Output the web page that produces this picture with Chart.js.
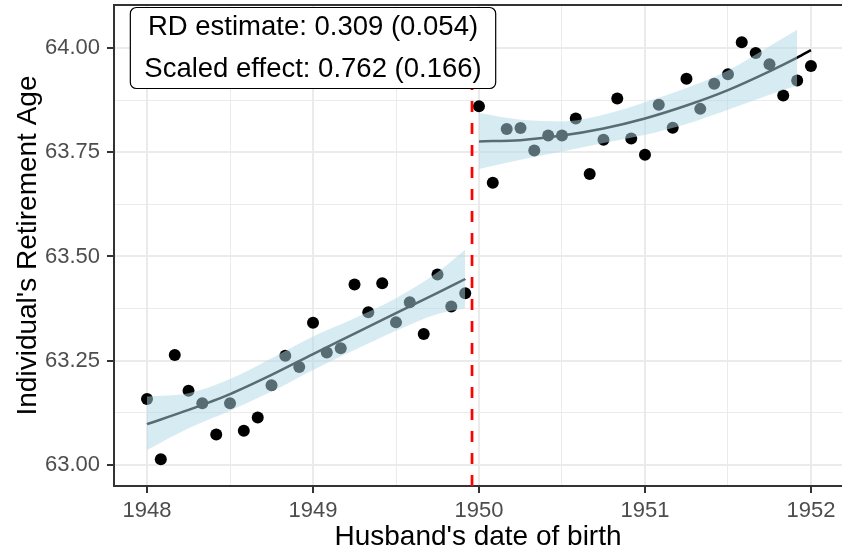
<!DOCTYPE html>
<html><head><meta charset="utf-8">
<script src="https://cdn.jsdelivr.net/npm/chart.js@4.4.1/dist/chart.umd.min.js"></script>
<style>html,body{margin:0;padding:0;background:#fff;overflow:hidden}#wrap{width:842px;height:551px}</style>
</head><body><div id="wrap"><canvas id="c" width="842" height="551"></canvas></div>
<script>
// ---- data ----
const leftX = [1948.000,1948.083,1948.167,1948.250,1948.333,1948.417,1948.500,1948.583,1948.667,1948.750,1948.833,1948.917,
               1949.000,1949.083,1949.167,1949.250,1949.333,1949.417,1949.500,1949.583,1949.667,1949.750,1949.833,1949.917];
const leftY = [63.158,63.014,63.264,63.178,63.148,63.073,63.148,63.082,63.114,63.191,63.262,63.235,
               63.341,63.270,63.280,63.433,63.366,63.436,63.342,63.390,63.314,63.457,63.380,63.412];
const rightX = [1950.000,1950.083,1950.167,1950.250,1950.333,1950.417,1950.500,1950.583,1950.667,1950.750,1950.833,1950.917,
                1951.000,1951.083,1951.167,1951.250,1951.333,1951.417,1951.500,1951.583,1951.667,1951.750,1951.833,1951.917,1952.000];
const rightY = [63.860,63.677,63.806,63.808,63.754,63.790,63.790,63.831,63.698,63.780,63.879,63.783,
                63.744,63.864,63.809,63.926,63.854,63.914,63.937,64.014,63.988,63.961,63.886,63.922,63.957];

const fitLeftX = [1948.0,1948.25,1948.5,1948.75,1949.0,1949.25,1949.5,1949.75,1949.917];
const fitLeftY = [63.098,63.132,63.170,63.216,63.266,63.315,63.364,63.413,63.446];
const bandLeftUpper = [63.164,63.172,63.206,63.256,63.308,63.352,63.400,63.462,63.516];
const bandLeftLower = [63.036,63.088,63.130,63.176,63.228,63.276,63.322,63.362,63.376];

const fitRightX = [1950.0,1950.25,1950.5,1950.75,1951.0,1951.25,1951.5,1951.75,1951.917,1952.0];
const fitRightY = [63.776,63.779,63.790,63.807,63.831,63.862,63.899,63.944,63.977,63.995];
const bandRightX = [1950.0,1950.25,1950.5,1950.75,1951.0,1951.25,1951.5,1951.75,1951.917];
const bandRightUpper = [63.844,63.828,63.824,63.840,63.870,63.904,63.946,64.004,64.044];
const bandRightLower = [63.710,63.732,63.752,63.772,63.792,63.818,63.852,63.888,63.910];

const cutoff = 1949.958;

const xTickValues = [1948,1949,1950,1951,1952];
const xTickLabels = ['1948','1949','1950','1951','1952'];
const xMinorTicks = [1948.5,1949.5,1950.5,1951.5];
const yTickValues = [63.00,63.25,63.50,63.75,64.00];
const yTickLabels = ['63.00','63.25','63.50','63.75','64.00'];
const yMinorTicks = [63.125,63.375,63.625,63.875];

const xTitle = "Husband's date of birth";
const yTitle = "Individual's Retirement Age";
const annotationLines = ['RD estimate: 0.309 (0.054)','Scaled effect: 0.762 (0.166)'];
const annotationAnchor = {x: 1949, y: 64.00};

// ---- layout / style ----
const X_MIN = 1947.801, X_MAX = 1952.187;
const Y_MIN = 62.9496, Y_MAX = 64.1031;
const FONT = '"Liberation Sans", Arial, Helvetica, sans-serif';
const BAND = 'rgba(173,216,230,0.5)';
const GRID = '#EBEBEB';
const AXIS = '#333333';

const pts = (xs, ys) => xs.map((x,i)=>({x, y: ys[i]}));

function tickSetter(major, minor) {
  return (scale) => {
    scale.ticks = major.concat(minor).filter(v => v >= scale.min && v <= scale.max).sort((a,b)=>a-b).map(v=>({value:v}));
  };
}
const isMajor = (arr, v) => arr.some(m => Math.abs(m - v) < 1e-6);
function zeroPad(s) { s.paddingLeft = 0; s.paddingRight = 0; s.paddingTop = 0; s.paddingBottom = 0; }

const annotationPlugin = {
  id: 'rdAnnotation',
  afterDatasetsDraw(chart) {
    const {ctx, scales:{x, y}} = chart;
    const cx = x.getPixelForValue(annotationAnchor.x);
    const cy = y.getPixelForValue(annotationAnchor.y);
    ctx.save();
    ctx.font = '27.5px ' + FONT;
    const w = Math.max(...annotationLines.map(t => ctx.measureText(t).width)) + 28;
    const h = 81, r = 6;
    const l = cx - w/2, t = cy - h/2;
    ctx.beginPath();
    ctx.moveTo(l + r, t);
    ctx.arcTo(l + w, t, l + w, t + h, r);
    ctx.arcTo(l + w, t + h, l, t + h, r);
    ctx.arcTo(l, t + h, l, t, r);
    ctx.arcTo(l, t, l + w, t, r);
    ctx.closePath();
    ctx.fillStyle = '#ffffff';
    ctx.fill();
    ctx.lineWidth = 1.2;
    ctx.strokeStyle = '#000000';
    ctx.stroke();
    ctx.fillStyle = '#000000';
    ctx.textAlign = 'center';
    ctx.textBaseline = 'middle';
    ctx.fillText(annotationLines[0], cx, cy - 21);
    ctx.fillText(annotationLines[1], cx, cy + 21);
    ctx.restore();
  }
};

const lineBase = {type:'line', pointRadius:0, pointHoverRadius:0, cubicInterpolationMode:'monotone'};

new Chart(document.getElementById('c'), {
  type: 'line',
  data: {
    datasets: [
      {...lineBase, data: pts(fitLeftX, bandLeftUpper), borderWidth: 0, borderColor: 'rgba(0,0,0,0)', backgroundColor: BAND, fill: 1},
      {...lineBase, data: pts(fitLeftX, bandLeftLower), borderWidth: 0, borderColor: 'rgba(0,0,0,0)', fill: false},
      {...lineBase, data: pts(bandRightX, bandRightUpper), borderWidth: 0, borderColor: 'rgba(0,0,0,0)', backgroundColor: BAND, fill: 3},
      {...lineBase, data: pts(bandRightX, bandRightLower), borderWidth: 0, borderColor: 'rgba(0,0,0,0)', fill: false},
      {...lineBase, data: pts(fitLeftX, fitLeftY), borderColor: '#000000', borderWidth: 2.5, fill: false},
      {...lineBase, data: pts(fitRightX, fitRightY), borderColor: '#000000', borderWidth: 2.5, fill: false},
      {type:'line', data: [{x: cutoff, y: Y_MIN}, {x: cutoff, y: Y_MAX}], borderColor: '#FF0000', borderWidth: 2.7, borderDash: [11, 11], pointRadius: 0, fill: false},
      {type:'line', showLine: false, data: pts(leftX, leftY).concat(pts(rightX, rightY)), pointRadius: 6, pointBackgroundColor: '#000000', pointBorderWidth: 0, pointBorderColor: '#000000', fill: false}
    ]
  },
  options: {
    responsive: false,
    devicePixelRatio: 1,
    animation: false,
    events: [],
    layout: {padding: 0, autoPadding: false},
    plugins: {legend: {display: false}, tooltip: {enabled: false}},
    scales: {
      x: {
        type: 'linear', position: 'bottom', min: X_MIN, max: X_MAX,
        afterBuildTicks: tickSetter(xTickValues, xMinorTicks),
        afterFit: (s) => { s.height = 65; zeroPad(s); },
        ticks: {
          autoSkip: false, maxRotation: 0, padding: 5, color: '#4D4D4D', font: {family: FONT, size: 22},
          callback: (v) => { const i = xTickValues.findIndex(m => Math.abs(m - v) < 1e-6); return i >= 0 ? xTickLabels[i] : ''; }
        },
        grid: {
          color: GRID, tickLength: 7,
          lineWidth: (c) => isMajor(xTickValues, c.tick.value) ? 2 : 1,
          tickColor: (c) => isMajor(xTickValues, c.tick.value) ? AXIS : 'rgba(0,0,0,0)',
          tickWidth: 2
        },
        border: {display: true, color: AXIS, width: 2},
        title: {display: true, text: xTitle, color: '#000000', font: {family: FONT, size: 28, lineHeight: 1}, padding: {top: 0, bottom: 0}}
      },
      xTop: {
        type: 'linear', position: 'top', min: X_MIN, max: X_MAX,
        afterFit: (s) => { s.height = 5; zeroPad(s); },
        ticks: {display: false},
        grid: {display: false, drawTicks: false},
        border: {display: true, color: AXIS, width: 2}
      },
      y: {
        type: 'linear', position: 'left', min: Y_MIN, max: Y_MAX,
        afterBuildTicks: tickSetter(yTickValues, yMinorTicks),
        afterFit: (s) => { s.width = 114; zeroPad(s); },
        ticks: {
          autoSkip: false, padding: 7, color: '#4D4D4D', font: {family: FONT, size: 22},
          callback: (v) => { const i = yTickValues.findIndex(m => Math.abs(m - v) < 1e-6); return i >= 0 ? yTickLabels[i] : ''; }
        },
        grid: {
          color: GRID, tickLength: 7,
          lineWidth: (c) => isMajor(yTickValues, c.tick.value) ? 2 : 1,
          tickColor: (c) => isMajor(yTickValues, c.tick.value) ? AXIS : 'rgba(0,0,0,0)',
          tickWidth: 2
        },
        border: {display: true, color: AXIS, width: 2},
        title: {display: true, text: yTitle, color: '#000000', font: {family: FONT, size: 28, lineHeight: 1}, padding: {top: 14, bottom: 0}}
      }
    }
  },
  plugins: [annotationPlugin]
});
</script></body></html>
